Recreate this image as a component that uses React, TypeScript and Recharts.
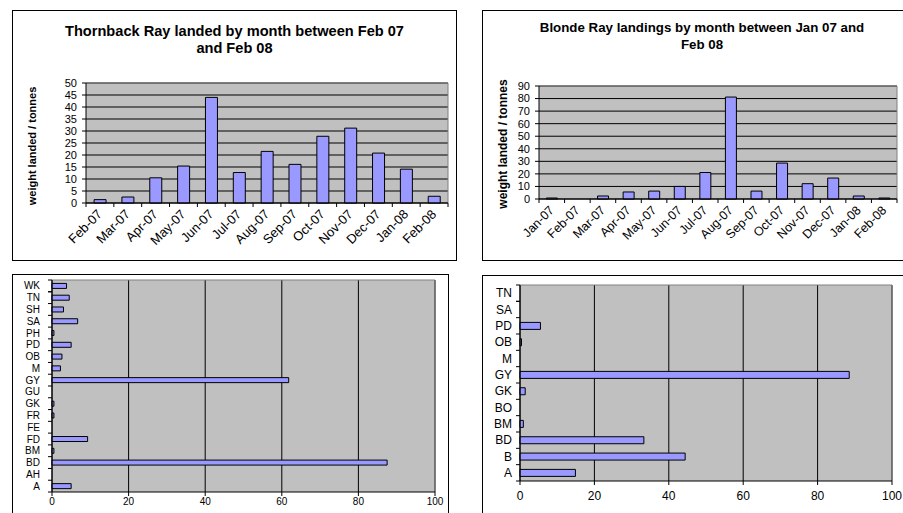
import { BarChart, Bar, XAxis, YAxis, CartesianGrid } from "recharts";

// Monthly landings, tonnes
const thornbackMonths = ["Feb-07", "Mar-07", "Apr-07", "May-07", "Jun-07", "Jul-07", "Aug-07", "Sep-07", "Oct-07", "Nov-07", "Dec-07", "Jan-08", "Feb-08"];
const thornbackTonnes = [1.4, 2.5, 10.5, 15.4, 44, 12.7, 21.5, 16.1, 27.8, 31.2, 20.8, 14.1, 2.8];
const thornbackTicks = [0, 5, 10, 15, 20, 25, 30, 35, 40, 45, 50];

const blondeMonths = ["Jan-07", "Feb-07", "Mar-07", "Apr-07", "May-07", "Jun-07", "Jul-07", "Aug-07", "Sep-07", "Oct-07", "Nov-07", "Dec-07", "Jan-08", "Feb-08"];
const blondeTonnes = [0.8, 0, 2.4, 5.6, 6.3, 10, 21.1, 81.2, 6.3, 28.6, 12.2, 16.7, 2.4, 0.8];
const blondeTicks = [0, 10, 20, 30, 40, 50, 60, 70, 80, 90];

// Landings by port code (bottom to top)
const thornbackPorts = ["A", "AH", "BD", "BM", "FD", "FE", "FR", "GK", "GU", "GY", "M", "OB", "PD", "PH", "SA", "SH", "TN", "WK"];
const thornbackPortTonnes = [5, 0, 87.5, 0.5, 9.3, 0, 0.5, 0.5, 0, 61.8, 2.2, 2.6, 5, 0.5, 6.7, 3, 4.5, 3.8];

const blondePorts = ["A", "B", "BD", "BM", "BO", "GK", "GY", "M", "OB", "PD", "SA", "TN"];
const blondePortTonnes = [14.9, 44.4, 33.3, 0.9, 0, 1.4, 88.5, 0, 0.4, 5.5, 0, 0];

const portTicks = [0, 20, 40, 60, 80, 100];

const FONT = "'Liberation Sans', Arial, sans-serif";
const BAR_FILL = "#9999FF";
const PLOT_BG = "#C0C0C0";

const toRows = (cats: string[], vals: number[]) => cats.map((c, i) => ({ cat: c, t: vals[i] }));

// Excel-style category ticks: marks sit on the band edges, label rotated under the centre
function MonthTick(props: any) {
  const { x, y, payload, index, band, count, size } = props;
  const half = payload?.offset ?? band / 2;
  const ax = x + 3;
  const ay = y + 12;
  return (
    <g>
      <line x1={x - half} x2={x - half} y1={y} y2={y + 4} stroke="#000" />
      {index === count - 1 && <line x1={x + half} x2={x + half} y1={y} y2={y + 4} stroke="#000" />}
      <text x={ax} y={ay} transform={`rotate(-45 ${ax} ${ay})`} textAnchor="end" fontSize={size} fill="#000">
        {payload.value}
      </text>
    </g>
  );
}

function PortTick(props: any) {
  const { x, y, payload, index, band, count, gap, size } = props;
  const half = payload?.offset ?? band / 2;
  return (
    <g>
      <line x1={x - 4} x2={x} y1={y - half} y2={y - half} stroke="#000" />
      {index === 0 && <line x1={x - 4} x2={x} y1={y + half} y2={y + half} stroke="#000" />}
      {index === count - 1 && <line x1={x - 4} x2={x} y1={y + half} y2={y + half} stroke="#000" />}
      <text x={x - gap} y={y} dy="0.35em" textAnchor="end" fontSize={size} fill="#000">
        {payload.value}
      </text>
    </g>
  );
}

const panelStyle = (left: number, top: number, width: number, height: number): React.CSSProperties => ({
  position: "absolute",
  left,
  top,
  width,
  height,
  boxSizing: "border-box",
  border: "1px solid #000",
  background: "#fff",
});

function YTitle({ x, y, size }: { x: number; y: number; size: number }) {
  return (
    <div
      style={{
        position: "absolute",
        left: x,
        top: y,
        transform: "translate(-50%, -50%) rotate(-90deg)",
        whiteSpace: "nowrap",
        fontWeight: "bold",
        fontSize: size,
      }}
    >
      weight landed / tonnes
    </div>
  );
}

function MonthlyChart(props: {
  rows: { cat: string; t: number }[];
  ticks: number[];
  width: number;
  height: number;
  margin: { top: number; right: number; left: number; bottom: number };
  yWidth: number;
  xHeight: number;
  plotWidth: number;
  labelSize: number;
}) {
  const { rows, ticks, width, height, margin, yWidth, xHeight, plotWidth, labelSize } = props;
  const band = plotWidth / rows.length;
  return (
    <BarChart width={width} height={height} data={rows} margin={margin} barCategoryGap="29%" style={{ position: "absolute", left: 0, top: 0 }}>
      <CartesianGrid fill={PLOT_BG} fillOpacity={1} stroke="#000" vertical={false} />
      <CartesianGrid
        fill="none"
        stroke="#808080"
        horizontalCoordinatesGenerator={({ offset }: any) => [offset.top]}
        verticalCoordinatesGenerator={({ offset }: any) => [offset.left + offset.width]}
      />
      <XAxis
        dataKey="cat"
        interval={0}
        height={xHeight}
        tickSize={0}
        tickMargin={0}
        tickLine={false}
        axisLine={{ stroke: "#000" }}
        tick={<MonthTick band={band} count={rows.length} size={labelSize} />}
      />
      <YAxis
        type="number"
        domain={[ticks[0], ticks[ticks.length - 1]]}
        ticks={ticks}
        interval={0}
        width={yWidth}
        tickSize={4}
        tickMargin={5}
        axisLine={{ stroke: "#000" }}
        tickLine={{ stroke: "#000" }}
        tick={{ fontSize: 11, fill: "#000" }}
      />
      <Bar dataKey="t" fill={BAR_FILL} stroke="#000" strokeWidth={1} isAnimationActive={false} />
    </BarChart>
  );
}

function PortChart(props: {
  rows: { cat: string; t: number }[];
  width: number;
  height: number;
  margin: { top: number; right: number; left: number; bottom: number };
  yWidth: number;
  plotHeight: number;
  fontSize: number;
  labelGap: number;
  xMargin: number;
}) {
  const { rows, width, height, margin, yWidth, plotHeight, fontSize, labelGap, xMargin } = props;
  const band = plotHeight / rows.length;
  return (
    <BarChart
      layout="vertical"
      width={width}
      height={height}
      data={rows}
      margin={margin}
      barCategoryGap="29%"
      style={{ position: "absolute", left: 0, top: 0 }}
    >
      <CartesianGrid fill={PLOT_BG} fillOpacity={1} stroke="#000" horizontal={false} />
      <CartesianGrid
        fill="none"
        stroke="#808080"
        horizontalCoordinatesGenerator={({ offset }: any) => [offset.top]}
        verticalCoordinatesGenerator={({ offset }: any) => [offset.left + offset.width]}
      />
      <XAxis
        type="number"
        domain={[0, 100]}
        ticks={portTicks}
        interval={0}
        height={30}
        tickSize={4}
        tickMargin={xMargin}
        axisLine={{ stroke: "#000" }}
        tickLine={{ stroke: "#000" }}
        tick={{ fontSize, fill: "#000" }}
      />
      <YAxis
        type="category"
        dataKey="cat"
        reversed
        interval={0}
        width={yWidth}
        tickSize={0}
        tickMargin={0}
        tickLine={false}
        axisLine={{ stroke: "#000" }}
        tick={<PortTick band={band} count={rows.length} gap={labelGap} size={fontSize} />}
      />
      <Bar dataKey="t" fill={BAR_FILL} stroke="#000" strokeWidth={1} isAnimationActive={false} />
    </BarChart>
  );
}

export default function App() {
  const titleStyle: React.CSSProperties = {
    position: "absolute",
    left: 0,
    width: "100%",
    textAlign: "center",
    fontWeight: "bold",
    lineHeight: "17px",
  };
  return (
    <div
      style={{
        position: "absolute",
        left: 0,
        top: 0,
        width: 903,
        height: 513,
        overflow: "hidden",
        background: "#fff",
        fontFamily: FONT,
        color: "#000",
      }}
    >
      {/* Thornback ray, monthly */}
      <div style={panelStyle(12, 10, 445, 251)}>
        <div style={{ ...titleStyle, top: 12, fontSize: 14.6 }}>
          Thornback Ray landed by month between Feb 07
          <br />
          and Feb 08
        </div>
        <MonthlyChart
          rows={toRows(thornbackMonths, thornbackTonnes)}
          ticks={thornbackTicks}
          width={443}
          height={249}
          margin={{ top: 72, right: 8, left: 0, bottom: 0 }}
          yWidth={73}
          xHeight={57}
          plotWidth={362}
          labelSize={13}
        />
        <YTitle x={19} y={135} size={11} />
      </div>

      {/* Blonde ray, monthly */}
      <div style={panelStyle(482, 10, 440, 251)}>
        <div style={{ ...titleStyle, top: 8, fontSize: 13.3 }}>
          Blonde Ray landings by month between Jan 07 and
          <br />
          Feb 08
        </div>
        <MonthlyChart
          rows={toRows(blondeMonths, blondeTonnes)}
          ticks={blondeTicks}
          width={438}
          height={249}
          margin={{ top: 75, right: 24, left: 0, bottom: 0 }}
          yWidth={56}
          xHeight={61}
          plotWidth={358}
          labelSize={12.5}
        />
        <YTitle x={20} y={133} size={12} />
      </div>

      {/* Thornback ray, by port */}
      <div style={panelStyle(12, 274, 437, 260)}>
        <PortChart
          rows={toRows(thornbackPorts, thornbackPortTonnes)}
          width={435}
          height={247}
          margin={{ top: 5, right: 13, left: 0, bottom: 0 }}
          yWidth={39}
          plotHeight={212}
          fontSize={10}
          labelGap={12}
          xMargin={2}
        />
      </div>

      {/* Blonde ray, by port */}
      <div style={panelStyle(482, 275, 440, 260)}>
        <PortChart
          rows={toRows(blondePorts, blondePortTonnes)}
          width={438}
          height={235}
          margin={{ top: 9, right: 29, left: 0, bottom: 0 }}
          yWidth={37}
          plotHeight={196}
          fontSize={12}
          labelGap={8}
          xMargin={6}
        />
      </div>
    </div>
  );
}
